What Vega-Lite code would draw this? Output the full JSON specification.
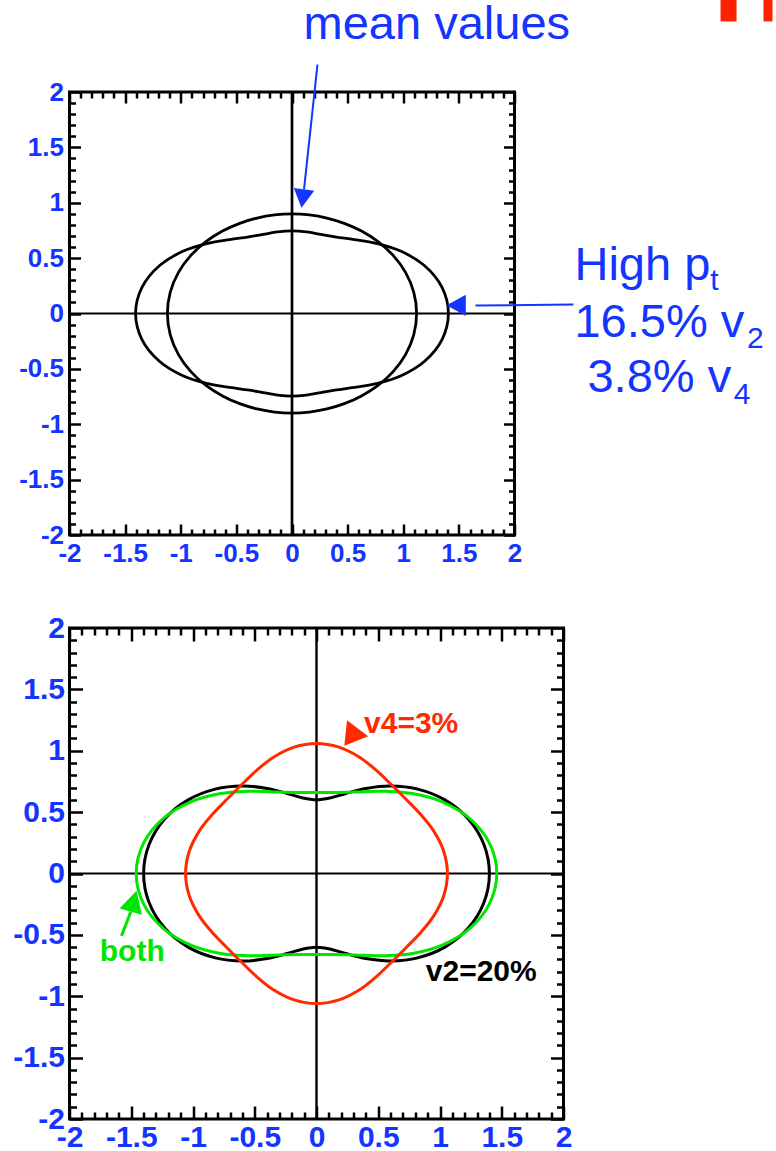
{
  "$schema": "https://vega.github.io/schema/vega-lite/v6.json",
  "background": "white",
  "padding": {"left": 10.5, "top": -3, "right": 0, "bottom": 0},
  "config": {
    "view": {"stroke": "black", "strokeWidth": 3},
    "font": "Liberation Sans",
    "axis": {"grid": false, "domain": false, "tickColor": "black", "tickWidth": 2.5, "labelOverlap": false, "labelFlush": false, "labelBound": false}
  },
  "datasets": {
    "top": [
      {"c":"mean","i":0,"x":1.12,"y":0},{"c":"mean","i":1,"x":1.0942,"y":0.1929},{"c":"mean","i":2,"x":1.0205,"y":0.3714},{"c":"mean","i":3,"x":0.9093,"y":0.525},{"c":"mean","i":4,"x":0.7735,"y":0.649},{"c":"mean","i":5,"x":0.6245,"y":0.7442},{"c":"mean","i":6,"x":0.47,"y":0.8141},{"c":"mean","i":7,"x":0.3138,"y":0.8621},{"c":"mean","i":8,"x":0.157,"y":0.8906},{"c":"mean","i":9,"x":0,"y":0.9},
      {"c":"mean","i":10,"x":-0.157,"y":0.8906},{"c":"mean","i":11,"x":-0.3138,"y":0.8621},{"c":"mean","i":12,"x":-0.47,"y":0.8141},{"c":"mean","i":13,"x":-0.6245,"y":0.7442},{"c":"mean","i":14,"x":-0.7735,"y":0.649},{"c":"mean","i":15,"x":-0.9093,"y":0.525},{"c":"mean","i":16,"x":-1.0205,"y":0.3714},{"c":"mean","i":17,"x":-1.0942,"y":0.1929},{"c":"mean","i":18,"x":-1.12,"y":0},
      {"c":"mean","i":19,"x":-1.0942,"y":-0.1929},{"c":"mean","i":20,"x":-1.0205,"y":-0.3714},{"c":"mean","i":21,"x":-0.9093,"y":-0.525},{"c":"mean","i":22,"x":-0.7735,"y":-0.649},{"c":"mean","i":23,"x":-0.6245,"y":-0.7442},{"c":"mean","i":24,"x":-0.47,"y":-0.8141},{"c":"mean","i":25,"x":-0.3138,"y":-0.8621},{"c":"mean","i":26,"x":-0.157,"y":-0.8906},{"c":"mean","i":27,"x":0,"y":-0.9},
      {"c":"mean","i":28,"x":0.157,"y":-0.8906},{"c":"mean","i":29,"x":0.3138,"y":-0.8621},{"c":"mean","i":30,"x":0.47,"y":-0.8141},{"c":"mean","i":31,"x":0.6245,"y":-0.7442},{"c":"mean","i":32,"x":0.7735,"y":-0.649},{"c":"mean","i":33,"x":0.9093,"y":-0.525},{"c":"mean","i":34,"x":1.0205,"y":-0.3714},{"c":"mean","i":35,"x":1.0942,"y":-0.1929},
      {"c":"high","i":0,"x":1.406,"y":0},{"c":"high","i":1,"x":1.3475,"y":0.2376},{"c":"high","i":2,"x":1.1896,"y":0.433},{"c":"high","i":3,"x":0.976,"y":0.5635},{"c":"high","i":4,"x":0.7552,"y":0.6337},{"c":"high","i":5,"x":0.5601,"y":0.6674},{"c":"high","i":6,"x":0.3985,"y":0.6902},{"c":"high","i":7,"x":0.2601,"y":0.7145},{"c":"high","i":8,"x":0.1299,"y":0.7368},{"c":"high","i":9,"x":0,"y":0.746},
      {"c":"high","i":10,"x":-0.1299,"y":0.7368},{"c":"high","i":11,"x":-0.2601,"y":0.7145},{"c":"high","i":12,"x":-0.3985,"y":0.6902},{"c":"high","i":13,"x":-0.5601,"y":0.6674},{"c":"high","i":14,"x":-0.7552,"y":0.6337},{"c":"high","i":15,"x":-0.976,"y":0.5635},{"c":"high","i":16,"x":-1.1896,"y":0.433},{"c":"high","i":17,"x":-1.3475,"y":0.2376},{"c":"high","i":18,"x":-1.406,"y":0},
      {"c":"high","i":19,"x":-1.3475,"y":-0.2376},{"c":"high","i":20,"x":-1.1896,"y":-0.433},{"c":"high","i":21,"x":-0.976,"y":-0.5635},{"c":"high","i":22,"x":-0.7552,"y":-0.6337},{"c":"high","i":23,"x":-0.5601,"y":-0.6674},{"c":"high","i":24,"x":-0.3985,"y":-0.6902},{"c":"high","i":25,"x":-0.2601,"y":-0.7145},{"c":"high","i":26,"x":-0.1299,"y":-0.7368},{"c":"high","i":27,"x":0,"y":-0.746},
      {"c":"high","i":28,"x":0.1299,"y":-0.7368},{"c":"high","i":29,"x":0.2601,"y":-0.7145},{"c":"high","i":30,"x":0.3985,"y":-0.6902},{"c":"high","i":31,"x":0.5601,"y":-0.6674},{"c":"high","i":32,"x":0.7552,"y":-0.6337},{"c":"high","i":33,"x":0.976,"y":-0.5635},{"c":"high","i":34,"x":1.1896,"y":-0.433},{"c":"high","i":35,"x":1.3475,"y":-0.2376}
    ],
    "bottom": [
      {"c":"v2","i":0,"x":1.4,"y":0},{"c":"v2","i":1,"x":1.355,"y":0.2389},{"c":"v2","i":2,"x":1.2276,"y":0.4468},{"c":"v2","i":3,"x":1.0392,"y":0.6},{"c":"v2","i":4,"x":0.8193,"y":0.6874},{"c":"v2","i":5,"x":0.5981,"y":0.7128},{"c":"v2","i":6,"x":0.4,"y":0.6928},{"c":"v2","i":7,"x":0.2372,"y":0.6518},{"c":"v2","i":8,"x":0.1084,"y":0.6146},{"c":"v2","i":9,"x":0,"y":0.6},
      {"c":"v2","i":10,"x":-0.1084,"y":0.6146},{"c":"v2","i":11,"x":-0.2372,"y":0.6518},{"c":"v2","i":12,"x":-0.4,"y":0.6928},{"c":"v2","i":13,"x":-0.5981,"y":0.7128},{"c":"v2","i":14,"x":-0.8193,"y":0.6874},{"c":"v2","i":15,"x":-1.0392,"y":0.6},{"c":"v2","i":16,"x":-1.2276,"y":0.4468},{"c":"v2","i":17,"x":-1.355,"y":0.2389},{"c":"v2","i":18,"x":-1.4,"y":0},
      {"c":"v2","i":19,"x":-1.355,"y":-0.2389},{"c":"v2","i":20,"x":-1.2276,"y":-0.4468},{"c":"v2","i":21,"x":-1.0392,"y":-0.6},{"c":"v2","i":22,"x":-0.8193,"y":-0.6874},{"c":"v2","i":23,"x":-0.5981,"y":-0.7128},{"c":"v2","i":24,"x":-0.4,"y":-0.6928},{"c":"v2","i":25,"x":-0.2372,"y":-0.6518},{"c":"v2","i":26,"x":-0.1084,"y":-0.6146},{"c":"v2","i":27,"x":0,"y":-0.6},
      {"c":"v2","i":28,"x":0.1084,"y":-0.6146},{"c":"v2","i":29,"x":0.2372,"y":-0.6518},{"c":"v2","i":30,"x":0.4,"y":-0.6928},{"c":"v2","i":31,"x":0.5981,"y":-0.7128},{"c":"v2","i":32,"x":0.8193,"y":-0.6874},{"c":"v2","i":33,"x":1.0392,"y":-0.6},{"c":"v2","i":34,"x":1.2276,"y":-0.4468},{"c":"v2","i":35,"x":1.355,"y":-0.2389},
      {"c":"both","i":0,"x":1.46,"y":0},{"c":"both","i":1,"x":1.4002,"y":0.2469},{"c":"both","i":2,"x":1.2374,"y":0.4504},{"c":"both","i":3,"x":1.0133,"y":0.585},{"c":"both","i":4,"x":0.7761,"y":0.6512},{"c":"both","i":5,"x":0.5619,"y":0.6696},{"c":"both","i":6,"x":0.385,"y":0.6668},{"c":"both","i":7,"x":0.2408,"y":0.6615},{"c":"both","i":8,"x":0.1164,"y":0.6599},{"c":"both","i":9,"x":0,"y":0.66},
      {"c":"both","i":10,"x":-0.1164,"y":0.6599},{"c":"both","i":11,"x":-0.2408,"y":0.6615},{"c":"both","i":12,"x":-0.385,"y":0.6668},{"c":"both","i":13,"x":-0.5619,"y":0.6696},{"c":"both","i":14,"x":-0.7761,"y":0.6512},{"c":"both","i":15,"x":-1.0133,"y":0.585},{"c":"both","i":16,"x":-1.2374,"y":0.4504},{"c":"both","i":17,"x":-1.4002,"y":0.2469},{"c":"both","i":18,"x":-1.46,"y":0},
      {"c":"both","i":19,"x":-1.4002,"y":-0.2469},{"c":"both","i":20,"x":-1.2374,"y":-0.4504},{"c":"both","i":21,"x":-1.0133,"y":-0.585},{"c":"both","i":22,"x":-0.7761,"y":-0.6512},{"c":"both","i":23,"x":-0.5619,"y":-0.6696},{"c":"both","i":24,"x":-0.385,"y":-0.6668},{"c":"both","i":25,"x":-0.2408,"y":-0.6615},{"c":"both","i":26,"x":-0.1164,"y":-0.6599},{"c":"both","i":27,"x":0,"y":-0.66},
      {"c":"both","i":28,"x":0.1164,"y":-0.6599},{"c":"both","i":29,"x":0.2408,"y":-0.6615},{"c":"both","i":30,"x":0.385,"y":-0.6668},{"c":"both","i":31,"x":0.5619,"y":-0.6696},{"c":"both","i":32,"x":0.7761,"y":-0.6512},{"c":"both","i":33,"x":1.0133,"y":-0.585},{"c":"both","i":34,"x":1.2374,"y":-0.4504},{"c":"both","i":35,"x":1.4002,"y":-0.2469},
      {"c":"v4","i":0,"x":1.06,"y":0},{"c":"v4","i":1,"x":1.0301,"y":0.1816},{"c":"v4","i":2,"x":0.9495,"y":0.3456},{"c":"v4","i":3,"x":0.84,"y":0.485},{"c":"v4","i":4,"x":0.7229,"y":0.6066},{"c":"v4","i":5,"x":0.6066,"y":0.7229},{"c":"v4","i":6,"x":0.485,"y":0.84},{"c":"v4","i":7,"x":0.3456,"y":0.9495},{"c":"v4","i":8,"x":0.1816,"y":1.0301},{"c":"v4","i":9,"x":0,"y":1.06},
      {"c":"v4","i":10,"x":-0.1816,"y":1.0301},{"c":"v4","i":11,"x":-0.3456,"y":0.9495},{"c":"v4","i":12,"x":-0.485,"y":0.84},{"c":"v4","i":13,"x":-0.6066,"y":0.7229},{"c":"v4","i":14,"x":-0.7229,"y":0.6066},{"c":"v4","i":15,"x":-0.84,"y":0.485},{"c":"v4","i":16,"x":-0.9495,"y":0.3456},{"c":"v4","i":17,"x":-1.0301,"y":0.1816},{"c":"v4","i":18,"x":-1.06,"y":0},
      {"c":"v4","i":19,"x":-1.0301,"y":-0.1816},{"c":"v4","i":20,"x":-0.9495,"y":-0.3456},{"c":"v4","i":21,"x":-0.84,"y":-0.485},{"c":"v4","i":22,"x":-0.7229,"y":-0.6066},{"c":"v4","i":23,"x":-0.6066,"y":-0.7229},{"c":"v4","i":24,"x":-0.485,"y":-0.84},{"c":"v4","i":25,"x":-0.3456,"y":-0.9495},{"c":"v4","i":26,"x":-0.1816,"y":-1.0301},{"c":"v4","i":27,"x":0,"y":-1.06},
      {"c":"v4","i":28,"x":0.1816,"y":-1.0301},{"c":"v4","i":29,"x":0.3456,"y":-0.9495},{"c":"v4","i":30,"x":0.485,"y":-0.84},{"c":"v4","i":31,"x":0.6066,"y":-0.7229},{"c":"v4","i":32,"x":0.7229,"y":-0.6066},{"c":"v4","i":33,"x":0.84,"y":-0.485},{"c":"v4","i":34,"x":0.9495,"y":-0.3456},{"c":"v4","i":35,"x":1.0301,"y":-0.1816}
    ],
    "topText": [
      {"t":"mean values","x":0.104,"y":2.483},
      {"t":"High p","x":2.539,"y":0.301},
      {"t":"16.5% v","x":2.539,"y":-0.21},
      {"t":"3.8% v","x":2.656,"y":-0.707}
    ],
    "topSub": [
      {"t":"t","x":3.76,"y":0.21},
      {"t":"2","x":4.09,"y":-0.316},
      {"t":"4","x":3.97,"y":-0.813}
    ],
    "bottomText": [
      {"t":"v4=3%","c":"v4","x":0.385,"y":1.141},
      {"t":"both","c":"both","x":-1.755,"y":-0.711},
      {"t":"v2=20%","c":"v2","x":0.885,"y":-0.874}
    ]
  },
  "vconcat": [
    {
      "width": 445,
      "height": 443,
      "resolve": {"axis": {"x": "independent", "y": "independent"}},
      "layer": [
        {
          "data": {"values": [{}]},
          "mark": {"type": "rule", "color": "black", "strokeWidth": 2.7},
          "encoding": {
            "x": {"datum": 0, "type": "quantitative", "scale": {"domain": [-2, 2], "nice": false, "zero": false},
              "axis": {"orient": "bottom", "title": null,
                "values": [-2,-1.9,-1.8,-1.7,-1.6,-1.5,-1.4,-1.3,-1.2,-1.1,-1,-0.9,-0.8,-0.7,-0.6,-0.5,-0.4,-0.3,-0.2,-0.1,0,0.1,0.2,0.3,0.4,0.5,0.6,0.7,0.8,0.9,1,1.1,1.2,1.3,1.4,1.5,1.6,1.7,1.8,1.9,2],
                "tickSize": {"condition": {"test": "abs(datum.value*2-round(datum.value*2))<0.01", "value": -11}, "value": -6},
                "labelExpr": "abs(datum.value*2-round(datum.value*2))<0.01 ? '' + datum.value : ''",
                "labelFont": "Liberation Sans", "labelFontWeight": "bold", "labelFontSize": 26, "labelColor": "#1434ff", "labelPadding": 16}}
          }
        },
        {
          "data": {"values": [{}]},
          "mark": {"type": "rule", "color": "black", "strokeWidth": 1.8},
          "encoding": {
            "y": {"datum": 0, "type": "quantitative", "scale": {"domain": [-2, 2], "nice": false, "zero": false},
              "axis": {"orient": "left", "title": null,
                "values": [-2,-1.9,-1.8,-1.7,-1.6,-1.5,-1.4,-1.3,-1.2,-1.1,-1,-0.9,-0.8,-0.7,-0.6,-0.5,-0.4,-0.3,-0.2,-0.1,0,0.1,0.2,0.3,0.4,0.5,0.6,0.7,0.8,0.9,1,1.1,1.2,1.3,1.4,1.5,1.6,1.7,1.8,1.9,2],
                "tickSize": {"condition": {"test": "abs(datum.value*2-round(datum.value*2))<0.01", "value": -11}, "value": -6},
                "labelExpr": "abs(datum.value*2-round(datum.value*2))<0.01 ? '' + datum.value : ''",
                "labelFont": "Liberation Sans", "labelFontWeight": "bold", "labelFontSize": 26, "labelColor": "#1434ff", "labelPadding": 17}}
          }
        },
        {
          "data": {"name": "top"},
          "mark": {"type": "line", "color": "black", "strokeWidth": 2.8, "interpolate": "cardinal-closed"},
          "encoding": {
            "x": {"field": "x", "type": "quantitative", "scale": {"domain": [-2, 2], "nice": false, "zero": false},
              "axis": {"orient": "top", "title": null, "labels": false,
                "values": [-2,-1.9,-1.8,-1.7,-1.6,-1.5,-1.4,-1.3,-1.2,-1.1,-1,-0.9,-0.8,-0.7,-0.6,-0.5,-0.4,-0.3,-0.2,-0.1,0,0.1,0.2,0.3,0.4,0.5,0.6,0.7,0.8,0.9,1,1.1,1.2,1.3,1.4,1.5,1.6,1.7,1.8,1.9,2],
                "tickSize": {"condition": {"test": "abs(datum.value*2-round(datum.value*2))<0.01", "value": -11}, "value": -6}}},
            "y": {"field": "y", "type": "quantitative", "scale": {"domain": [-2, 2], "nice": false, "zero": false},
              "axis": {"orient": "right", "title": null, "labels": false,
                "values": [-2,-1.9,-1.8,-1.7,-1.6,-1.5,-1.4,-1.3,-1.2,-1.1,-1,-0.9,-0.8,-0.7,-0.6,-0.5,-0.4,-0.3,-0.2,-0.1,0,0.1,0.2,0.3,0.4,0.5,0.6,0.7,0.8,0.9,1,1.1,1.2,1.3,1.4,1.5,1.6,1.7,1.8,1.9,2],
                "tickSize": {"condition": {"test": "abs(datum.value*2-round(datum.value*2))<0.01", "value": -11}, "value": -6}}},
            "detail": {"field": "c"},
            "order": {"field": "i", "type": "quantitative"}
          }
        },
        {
          "data": {"values": [{}]},
          "mark": {"type": "rule", "color": "#1434ff", "strokeWidth": 2},
          "encoding": {
            "x": {"datum": 0.229, "type": "quantitative", "scale": {"domain": [-2, 2]}, "axis": null},
            "y": {"datum": 2.248, "type": "quantitative", "scale": {"domain": [-2, 2]}, "axis": null},
            "x2": {"datum": 0.108},
            "y2": {"datum": 1.121}
          }
        },
        {
          "data": {"values": [{}]},
          "mark": {"type": "rule", "color": "#1434ff", "strokeWidth": 2},
          "encoding": {
            "x": {"datum": 1.649, "type": "quantitative", "scale": {"domain": [-2, 2]}, "axis": null},
            "y": {"datum": 0.072, "type": "quantitative", "scale": {"domain": [-2, 2]}, "axis": null},
            "x2": {"datum": 2.53},
            "y2": {"datum": 0.081}
          }
        },
        {
          "data": {"values": [{}]},
          "mark": {"type": "point", "filled": true, "opacity": 1, "color": "#1434ff", "shape": "M0,-1L-1.1,1L1.1,1Z", "size": 350, "angle": 187.7},
          "encoding": {
            "x": {"datum": 0.0966, "type": "quantitative", "scale": {"domain": [-2, 2]}, "axis": null},
            "y": {"datum": 1.038, "type": "quantitative", "scale": {"domain": [-2, 2]}, "axis": null}
          }
        },
        {
          "data": {"values": [{}]},
          "mark": {"type": "point", "filled": true, "opacity": 1, "color": "#1434ff", "shape": "M0,-1L-1.1,1L1.1,1Z", "size": 370, "angle": 270},
          "encoding": {
            "x": {"datum": 1.476, "type": "quantitative", "scale": {"domain": [-2, 2]}, "axis": null},
            "y": {"datum": 0.074, "type": "quantitative", "scale": {"domain": [-2, 2]}, "axis": null}
          }
        },
        {
          "data": {"name": "topText"},
          "mark": {"type": "text", "align": "left", "baseline": "alphabetic", "font": "Liberation Sans", "fontSize": 47, "color": "#1434ff"},
          "encoding": {
            "x": {"field": "x", "type": "quantitative", "scale": {"domain": [-2, 2]}, "axis": null},
            "y": {"field": "y", "type": "quantitative", "scale": {"domain": [-2, 2]}, "axis": null},
            "text": {"field": "t"}
          }
        },
        {
          "data": {"name": "topSub"},
          "mark": {"type": "text", "align": "left", "baseline": "alphabetic", "font": "Liberation Sans", "fontSize": 30, "color": "#1434ff"},
          "encoding": {
            "x": {"field": "x", "type": "quantitative", "scale": {"domain": [-2, 2]}, "axis": null},
            "y": {"field": "y", "type": "quantitative", "scale": {"domain": [-2, 2]}, "axis": null},
            "text": {"field": "t"}
          }
        },
        {
          "data": {"values": [{"x": 3.852, "x2": 3.996}, {"x": 4.238, "x2": 4.319}]},
          "mark": {"type": "rect", "color": "#ff2200"},
          "encoding": {
            "x": {"field": "x", "type": "quantitative", "scale": {"domain": [-2, 2]}, "axis": null},
            "x2": {"field": "x2"},
            "y": {"datum": 2.637, "type": "quantitative", "scale": {"domain": [-2, 2]}, "axis": null},
            "y2": {"datum": 2.844}
          }
        }
      ]
    },
    {
      "width": 494,
      "height": 491,
      "resolve": {"axis": {"x": "independent", "y": "independent"}},
      "layer": [
        {
          "data": {"values": [{}]},
          "mark": {"type": "rule", "color": "black", "strokeWidth": 2.4},
          "encoding": {
            "x": {"datum": 0, "type": "quantitative", "scale": {"domain": [-2, 2], "nice": false, "zero": false},
              "axis": {"orient": "bottom", "title": null,
                "values": [-2,-1.9,-1.8,-1.7,-1.6,-1.5,-1.4,-1.3,-1.2,-1.1,-1,-0.9,-0.8,-0.7,-0.6,-0.5,-0.4,-0.3,-0.2,-0.1,0,0.1,0.2,0.3,0.4,0.5,0.6,0.7,0.8,0.9,1,1.1,1.2,1.3,1.4,1.5,1.6,1.7,1.8,1.9,2],
                "tickSize": {"condition": {"test": "abs(datum.value*2-round(datum.value*2))<0.01", "value": -13}, "value": -7},
                "labelExpr": "abs(datum.value*2-round(datum.value*2))<0.01 ? '' + datum.value : ''",
                "labelFont": "Liberation Sans", "labelFontWeight": "bold", "labelFontSize": 30, "labelColor": "#1434ff", "labelPadding": 16}}
          }
        },
        {
          "data": {"values": [{}]},
          "mark": {"type": "rule", "color": "black", "strokeWidth": 2},
          "encoding": {
            "y": {"datum": 0, "type": "quantitative", "scale": {"domain": [-2, 2], "nice": false, "zero": false},
              "axis": {"orient": "left", "title": null,
                "values": [-2,-1.9,-1.8,-1.7,-1.6,-1.5,-1.4,-1.3,-1.2,-1.1,-1,-0.9,-0.8,-0.7,-0.6,-0.5,-0.4,-0.3,-0.2,-0.1,0,0.1,0.2,0.3,0.4,0.5,0.6,0.7,0.8,0.9,1,1.1,1.2,1.3,1.4,1.5,1.6,1.7,1.8,1.9,2],
                "tickSize": {"condition": {"test": "abs(datum.value*2-round(datum.value*2))<0.01", "value": -13}, "value": -7},
                "labelExpr": "abs(datum.value*2-round(datum.value*2))<0.01 ? '' + datum.value : ''",
                "labelFont": "Liberation Sans", "labelFontWeight": "bold", "labelFontSize": 30, "labelColor": "#1434ff", "labelPadding": 18}}
          }
        },
        {
          "data": {"name": "bottom"},
          "mark": {"type": "line", "strokeWidth": 3, "interpolate": "cardinal-closed"},
          "encoding": {
            "x": {"field": "x", "type": "quantitative", "scale": {"domain": [-2, 2], "nice": false, "zero": false},
              "axis": {"orient": "top", "title": null, "labels": false,
                "values": [-2,-1.9,-1.8,-1.7,-1.6,-1.5,-1.4,-1.3,-1.2,-1.1,-1,-0.9,-0.8,-0.7,-0.6,-0.5,-0.4,-0.3,-0.2,-0.1,0,0.1,0.2,0.3,0.4,0.5,0.6,0.7,0.8,0.9,1,1.1,1.2,1.3,1.4,1.5,1.6,1.7,1.8,1.9,2],
                "tickSize": {"condition": {"test": "abs(datum.value*2-round(datum.value*2))<0.01", "value": -13}, "value": -7}}},
            "y": {"field": "y", "type": "quantitative", "scale": {"domain": [-2, 2], "nice": false, "zero": false},
              "axis": {"orient": "right", "title": null, "labels": false,
                "values": [-2,-1.9,-1.8,-1.7,-1.6,-1.5,-1.4,-1.3,-1.2,-1.1,-1,-0.9,-0.8,-0.7,-0.6,-0.5,-0.4,-0.3,-0.2,-0.1,0,0.1,0.2,0.3,0.4,0.5,0.6,0.7,0.8,0.9,1,1.1,1.2,1.3,1.4,1.5,1.6,1.7,1.8,1.9,2],
                "tickSize": {"condition": {"test": "abs(datum.value*2-round(datum.value*2))<0.01", "value": -13}, "value": -7}}},
            "color": {"field": "c", "type": "nominal", "scale": {"domain": ["v2", "both", "v4"], "range": ["#000000", "#00e600", "#ff2a00"]}, "legend": null},
            "order": {"field": "i", "type": "quantitative"}
          }
        },
        {
          "data": {"values": [{}]},
          "mark": {"type": "rule", "color": "#00e600", "strokeWidth": 3},
          "encoding": {
            "x": {"datum": -1.579, "type": "quantitative", "scale": {"domain": [-2, 2]}, "axis": null},
            "y": {"datum": -0.508, "type": "quantitative", "scale": {"domain": [-2, 2]}, "axis": null},
            "x2": {"datum": -1.504},
            "y2": {"datum": -0.311}
          }
        },
        {
          "data": {"values": [{}]},
          "mark": {"type": "point", "filled": true, "opacity": 1, "color": "#00e600", "shape": "M0,-1L-1.07,1L1.07,1Z", "size": 470, "angle": 15.5},
          "encoding": {
            "x": {"datum": -1.481, "type": "quantitative", "scale": {"domain": [-2, 2]}, "axis": null},
            "y": {"datum": -0.226, "type": "quantitative", "scale": {"domain": [-2, 2]}, "axis": null}
          }
        },
        {
          "data": {"values": [{}]},
          "mark": {"type": "point", "filled": true, "opacity": 1, "color": "#ff2a00", "shape": "M0,-1L-1.2,1L1.2,1Z", "size": 484, "angle": 217},
          "encoding": {
            "x": {"datum": 0.279, "type": "quantitative", "scale": {"domain": [-2, 2]}, "axis": null},
            "y": {"datum": 1.112, "type": "quantitative", "scale": {"domain": [-2, 2]}, "axis": null}
          }
        },
        {
          "data": {"name": "bottomText"},
          "mark": {"type": "text", "align": "left", "baseline": "alphabetic", "font": "Liberation Sans", "fontWeight": "bold", "fontSize": 30},
          "encoding": {
            "x": {"field": "x", "type": "quantitative", "scale": {"domain": [-2, 2]}, "axis": null},
            "y": {"field": "y", "type": "quantitative", "scale": {"domain": [-2, 2]}, "axis": null},
            "text": {"field": "t"},
            "color": {"field": "c", "type": "nominal", "scale": {"domain": ["v2", "both", "v4"], "range": ["#000000", "#00e600", "#ff2a00"]}, "legend": null}
          }
        }
      ]
    }
  ],
  "spacing": 38
}
